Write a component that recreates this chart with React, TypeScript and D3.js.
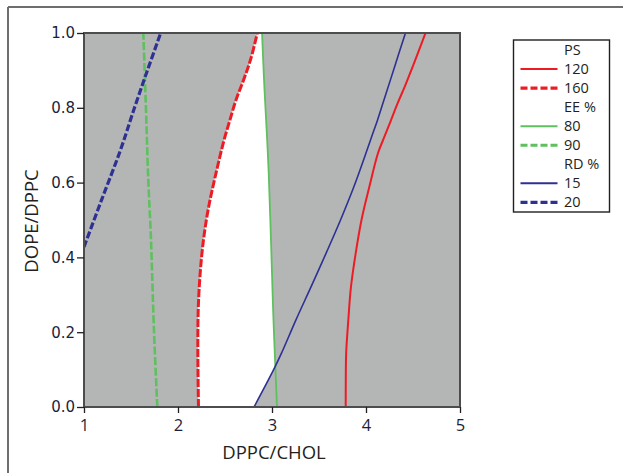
import React, { useEffect, useRef } from 'react';
import * as d3 from 'd3';

// contour lines: x = DPPC/CHOL, y = DOPE/DPPC
const ps120X = [3.784, 3.785, 3.789, 3.812, 3.84, 3.891, 3.952, 4.035, 4.128, 4.195, 4.266, 4.338, 4.411, 4.482, 4.553, 4.633];
const ps120Y = [0, 0.072, 0.144, 0.233, 0.321, 0.412, 0.5, 0.588, 0.679, 0.722, 0.767, 0.813, 0.856, 0.901, 0.947, 1.0];

const ps160X = [2.218, 2.213, 2.211, 2.216, 2.236, 2.271, 2.326, 2.405, 2.49, 2.552, 2.617, 2.697, 2.771, 2.844];
const ps160Y = [0, 0.088, 0.179, 0.267, 0.358, 0.447, 0.535, 0.626, 0.714, 0.767, 0.821, 0.874, 0.928, 1.0];

const ee80X = [3.053, 3.024, 3.011, 2.989, 2.965, 2.947, 2.92, 2.894];
const ee80Y = [0, 0.179, 0.267, 0.447, 0.626, 0.722, 0.85, 1.0];

const ee90X = [1.78, 1.745, 1.72, 1.71, 1.684, 1.656, 1.631];
const ee90Y = [0, 0.2, 0.393, 0.465, 0.607, 0.821, 1.0];

const rd15X = [2.809, 3.016, 3.101, 3.255, 3.415, 3.577, 3.729, 3.87, 4.0, 4.059, 4.122, 4.191, 4.259, 4.344, 4.42];
const rd15Y = [0, 0.099, 0.144, 0.233, 0.321, 0.412, 0.5, 0.588, 0.679, 0.722, 0.767, 0.821, 0.874, 0.941, 1.0];

const rd20X = [1.0, 1.186, 1.388, 1.537, 1.676, 1.816];
const rd20Y = [0.428, 0.553, 0.687, 0.8, 0.901, 1.0];

const xTicks = [1, 2, 3, 4, 5];
const yTicks = [0, 0.2, 0.4, 0.6, 0.8, 1.0];

const legendItems = [
  { label: 'PS' },
  { label: '120', color: '#ed1c24', dashed: false },
  { label: '160', color: '#ed1c24', dashed: true },
  { label: 'EE %' },
  { label: '80', color: '#5ec05e', dashed: false },
  { label: '90', color: '#5ec05e', dashed: true },
  { label: 'RD %' },
  { label: '15', color: '#2e3192', dashed: false },
  { label: '20', color: '#2e3192', dashed: true },
];

type Pt = [number, number];
const zip = (xs: number[], ys: number[]): Pt[] => xs.map((x, i) => [x, ys[i]]);

const W = 623;
const H = 473;

const Chart = () => {
  const svgRef = useRef<SVGSVGElement>(null);

  useEffect(() => {
    const svg = d3.select(svgRef.current);
    svg.selectAll('*').remove();

    const margin = { top: 33, left: 84, right: 460, bottom: 407 };
    const x = d3.scaleLinear().domain([1, 5]).range([margin.left, margin.right]);
    const y = d3.scaleLinear().domain([0, 1]).range([margin.bottom, margin.top]);

    const line = d3
      .line<Pt>()
      .x(d => x(d[0]))
      .y(d => y(d[1]))
      .curve(d3.curveCatmullRom.alpha(0.5));

    // outer frame (only top and left show in the picture)
    svg.append('line').attr('x1', 8).attr('y1', 7).attr('x2', W).attr('y2', 7)
      .attr('stroke', '#6d6e70').attr('stroke-width', 2);
    svg.append('line').attr('x1', 8).attr('y1', 7).attr('x2', 8).attr('y2', H)
      .attr('stroke', '#6d6e70').attr('stroke-width', 2);

    const defs = svg.append('defs');
    defs.append('clipPath').attr('id', 'plotClip')
      .append('rect')
      .attr('x', margin.left).attr('y', margin.top)
      .attr('width', margin.right - margin.left).attr('height', margin.bottom - margin.top);

    // region left of the RD 15 line
    const rd15 = zip(rd15X, rd15Y);
    const leftOfRd = line(rd15) + `L${x(1)},${y(1)}L${x(1)},${y(0)}Z`;
    defs.append('clipPath').attr('id', 'rdClip').append('path').attr('d', leftOfRd);

    const plot = svg.append('g').attr('clip-path', 'url(#plotClip)');

    plot.append('rect')
      .attr('x', margin.left).attr('y', margin.top)
      .attr('width', margin.right - margin.left).attr('height', margin.bottom - margin.top)
      .attr('fill', '#b4b6b6');

    // white feasible region: right of PS 160, left of EE 80 and RD 15
    const ps160 = zip(ps160X, ps160Y);
    const ee80 = zip(ee80X, ee80Y);
    const between = line(ps160) + 'L' + (line(ee80.slice().reverse()) as string).slice(1) + 'Z';
    plot.append('g').attr('clip-path', 'url(#rdClip)')
      .append('path').attr('d', between).attr('fill', '#ffffff');

    const series = [
      { pts: zip(ee90X, ee90Y), color: '#5ec05e', dash: '8,2.5', w: 2.6 },
      { pts: ee80, color: '#5ec05e', dash: null, w: 1.8 },
      { pts: ps160, color: '#ed1c24', dash: '8,2', w: 3 },
      { pts: zip(ps120X, ps120Y), color: '#ed1c24', dash: null, w: 2 },
      { pts: rd15, color: '#2e3192', dash: null, w: 1.6 },
      { pts: zip(rd20X, rd20Y), color: '#2e3192', dash: '7,2.5', w: 3.2 },
    ];

    plot.selectAll('.contour')
      .data(series)
      .enter()
      .append('path')
      .attr('class', 'contour')
      .attr('d', d => line(d.pts))
      .attr('fill', 'none')
      .attr('stroke', d => d.color)
      .attr('stroke-width', d => d.w)
      .attr('stroke-dasharray', d => d.dash);

    // plot frame
    svg.append('rect')
      .attr('x', margin.left).attr('y', margin.top)
      .attr('width', margin.right - margin.left).attr('height', margin.bottom - margin.top)
      .attr('fill', 'none').attr('stroke', '#4d4d4f').attr('stroke-width', 2);

    const xAxis = svg.append('g')
      .attr('transform', `translate(0,${margin.bottom})`)
      .call(d3.axisBottom(x).tickValues(xTicks).tickFormat(d3.format('d')).tickSize(6).tickPadding(6));
    xAxis.select('.domain').remove();
    xAxis.selectAll('line').attr('stroke', '#231f20').attr('stroke-width', 1.3);
    xAxis.selectAll('text')
      .attr('fill', '#1b1f3b')
      .style('font-family', '"Open Sans", sans-serif')
      .style('font-size', '16.5px');

    const yAxis = svg.append('g')
      .attr('transform', `translate(${margin.left},0)`)
      .call(d3.axisLeft(y).tickValues(yTicks).tickFormat(d3.format('.1f')).tickSize(7).tickPadding(2));
    yAxis.select('.domain').remove();
    yAxis.selectAll('line').attr('stroke', '#231f20').attr('stroke-width', 1.3);
    yAxis.selectAll('text')
      .attr('fill', '#1b1f3b')
      .style('font-family', '"DejaVu Sans", sans-serif')
      .style('font-size', '15px');

    svg.append('text')
      .attr('x', 274).attr('y', 459)
      .attr('text-anchor', 'middle')
      .style('font-family', '"Open Sans", sans-serif')
      .style('font-size', '18.5px')
      .attr('fill', '#231f20')
      .text('DPPC/CHOL');

    svg.append('text')
      .attr('transform', 'translate(38,221) rotate(-90)')
      .attr('text-anchor', 'middle')
      .style('font-family', '"Open Sans", sans-serif')
      .style('font-size', '18.5px')
      .attr('fill', '#231f20')
      .text('DOPE/DPPC');

    // legend
    const legend = svg.append('g');
    legend.append('rect')
      .attr('x', 513.5).attr('y', 40)
      .attr('width', 96).attr('height', 172)
      .attr('fill', 'none').attr('stroke', '#231f20').attr('stroke-width', 1.4);

    const rowY = (i: number) => 49.5 + i * 19.05;
    const rows = legend.selectAll('.row')
      .data(legendItems)
      .enter()
      .append('g')
      .attr('class', 'row');

    rows.filter(d => !!d.color)
      .append('line')
      .attr('x1', 520.5).attr('x2', 557.5)
      .attr('y1', d => rowY(legendItems.indexOf(d)) + 0.5)
      .attr('y2', d => rowY(legendItems.indexOf(d)) + 0.5)
      .attr('stroke', d => d.color as string)
      .attr('stroke-width', d => (d.dashed ? 3.2 : 2))
      .attr('stroke-dasharray', d => (d.dashed ? '7,3' : null));

    rows.append('text')
      .attr('x', 564)
      .attr('y', (d, i) => rowY(i))
      .attr('dy', '0.36em')
      .style('font-family', '"Open Sans", sans-serif')
      .style('font-size', '14.5px')
      .attr('fill', '#231f20')
      .text(d => d.label);
  }, []);

  return <svg ref={svgRef} width={W} height={H} style={{ display: 'block' }}></svg>;
};

export default function App() {
  return (
    <div style={{ position: 'absolute', left: 0, top: 0, background: '#fff' }}>
      <Chart />
    </div>
  );
}
